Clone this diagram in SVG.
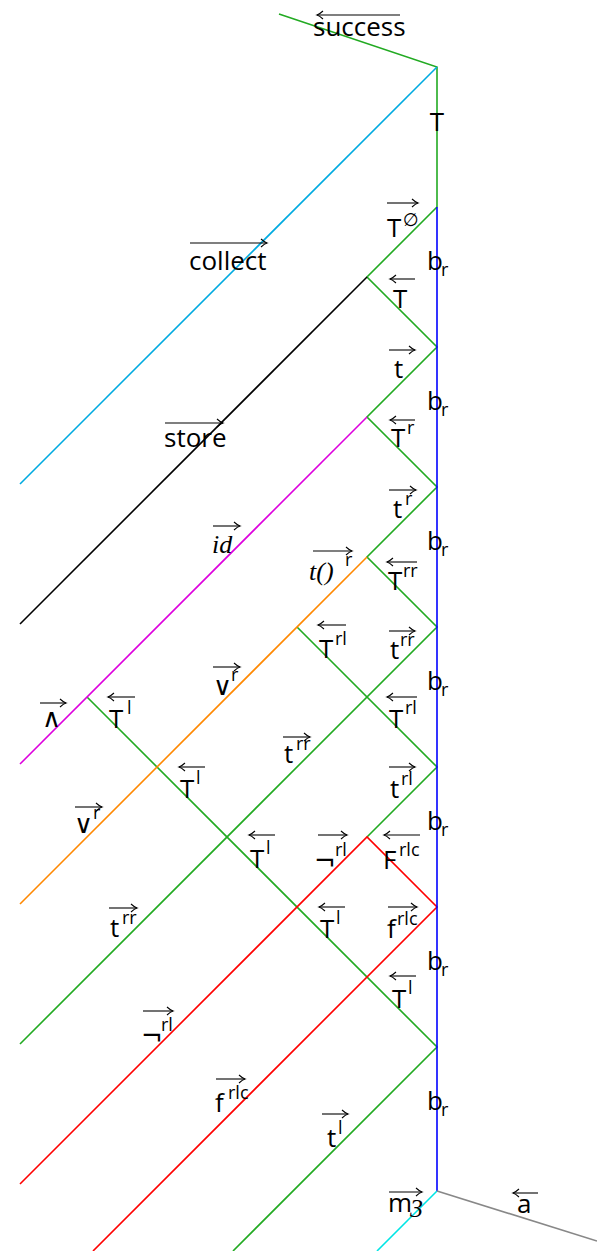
<svg xmlns="http://www.w3.org/2000/svg" width="597" height="1251" viewBox="0 0 597 1251">
<style>
.ln{fill:none;stroke-width:1.6;stroke-linejoin:miter}
.g{stroke:#22aa22}.cb{stroke:#00aae0}.k{stroke:#000}.mg{stroke:#dd00dd}.or{stroke:#ff8800}.rd{stroke:#ff0000}.bl{stroke:#0000ff}.cy{stroke:#00e5e5}.gy{stroke:#888888}
text{font-family:"Open Sans","DejaVu Sans",sans-serif;font-size:26px;fill:#000}
.s{font-size:18px}
.sy{font-family:"DejaVu Sans",sans-serif}
.mi{font-family:"Liberation Serif","DejaVu Serif",serif;font-style:italic}
.ar{stroke:#000;stroke-width:1.1;fill:none;marker-end:url(#ah)}
</style>
<defs>
<marker id="ah" markerWidth="9" markerHeight="10" refX="7" refY="5" orient="auto" markerUnits="userSpaceOnUse">
<path d="M1,1 Q4.5,4.2 7,5 Q4.5,5.8 1,9" fill="none" stroke="#000" stroke-width="1.1"/>
</marker>
</defs>
<g id="connectors">
<polyline class="ln g" points="279,14 437,67 437,207"/>
<polyline class="ln g" points="437,207 367,277 437,347 367,417 437,487 367,557 437,627 20,1044"/>
<polyline class="ln g" points="297,627 437,767 367,837"/>
<polyline class="ln g" points="87,697 437,1047 233,1251"/>
<line class="ln cb" x1="437" y1="67" x2="20" y2="484"/>
<line class="ln k" x1="367" y1="277" x2="20" y2="624"/>
<line class="ln mg" x1="367" y1="417" x2="20" y2="764"/>
<line class="ln or" x1="367" y1="557" x2="20" y2="904"/>
<polyline class="ln rd" points="20,1184 367,837 437,907 93,1251"/>
<line class="ln bl" x1="437" y1="207" x2="437" y2="1191"/>
<line class="ln cy" x1="437" y1="1191" x2="377" y2="1251"/>
<line class="ln gy" x1="437" y1="1191" x2="597" y2="1241"/>
</g>
<g id="lbl-success"><line class="ar" x1="400" y1="15" x2="317" y2="15"/><text x="313" y="36">success</text></g>
<g id="lbl-T"><text x="437" y="131" text-anchor="middle">T</text></g>
<g id="lbl-T0"><line class="ar" x1="387" y1="203" x2="418" y2="203"/><text x="387" y="237">T</text><text class="s sy" x="403" y="226" font-size="16">∅</text></g>
<g id="lbl-br1"><text x="427" y="270">b</text><text class="s" x="441" y="276">r</text></g>
<g id="lbl-br2"><text x="427" y="410">b</text><text class="s" x="441" y="416">r</text></g>
<g id="lbl-br3"><text x="427" y="550">b</text><text class="s" x="441" y="556">r</text></g>
<g id="lbl-br4"><text x="427" y="690">b</text><text class="s" x="441" y="696">r</text></g>
<g id="lbl-br5"><text x="427" y="830">b</text><text class="s" x="441" y="836">r</text></g>
<g id="lbl-br6"><text x="427" y="970">b</text><text class="s" x="441" y="976">r</text></g>
<g id="lbl-br7"><text x="427" y="1110">b</text><text class="s" x="441" y="1116">r</text></g>
<g id="lbl-collect"><line class="ar" x1="190" y1="243" x2="267" y2="243"/><text x="189" y="270">collect</text></g>
<g id="lbl-T-1"><line class="ar" x1="415" y1="279" x2="390" y2="279"/><text x="393" y="308">T</text></g>
<g id="lbl-t-1"><line class="ar" x1="389" y1="350" x2="415" y2="350"/><text x="394" y="378">t</text></g>
<g id="lbl-store"><line class="ar" x1="165" y1="423" x2="223" y2="423"/><text x="164" y="447">store</text></g>
<g id="lbl-Tr"><line class="ar" x1="415" y1="420" x2="390" y2="420"/><text x="391" y="447">T</text><text class="s" x="407" y="434">r</text></g>
<g id="lbl-tr"><line class="ar" x1="389" y1="490" x2="416" y2="490"/><text x="393" y="518">t</text><text class="s" x="405" y="505">r</text></g>
<g id="lbl-id"><line class="ar" x1="213" y1="526" x2="240" y2="526"/><text class="mi" x="212" y="553" font-size="28">id</text></g>
<g id="lbl-tfr"><line class="ar" x1="313" y1="551" x2="352" y2="551"/><text class="mi" x="309" y="580" font-size="28">t()</text><text class="s" x="345" y="566">r</text></g>
<g id="lbl-Trr"><line class="ar" x1="417" y1="562" x2="387" y2="562"/><text x="388" y="590">T</text><text class="s" x="403" y="577">rr</text></g>
<g id="lbl-Trl-1"><line class="ar" x1="346" y1="625" x2="318" y2="625"/><text x="319" y="658">T</text><text class="s" x="335" y="645">rl</text></g>
<g id="lbl-trr-1"><line class="ar" x1="389" y1="631" x2="415" y2="631"/><text x="390" y="659">t</text><text class="s" x="400" y="646">rr</text></g>
<g id="lbl-or-1"><line class="ar" x1="213" y1="667" x2="240" y2="667"/><text class="sy" x="213" y="695" font-size="25">∨</text><text class="s" x="231" y="681">r</text></g>
<g id="lbl-and"><line class="ar" x1="40" y1="703" x2="66" y2="703"/><text class="sy" x="42" y="727" font-size="25">∧</text></g>
<g id="lbl-Tl-1"><line class="ar" x1="135" y1="697" x2="108" y2="697"/><text x="109" y="728">T</text><text class="s" x="127" y="714">l</text></g>
<g id="lbl-Trl-2"><line class="ar" x1="417" y1="697" x2="387" y2="697"/><text x="389" y="728">T</text><text class="s" x="405" y="714">rl</text></g>
<g id="lbl-trr-2"><line class="ar" x1="283" y1="737" x2="310" y2="737"/><text x="284" y="763">t</text><text class="s" x="296" y="750">rr</text></g>
<g id="lbl-Tl-2"><line class="ar" x1="205" y1="767" x2="179" y2="767"/><text x="180" y="798">T</text><text class="s" x="196" y="784">l</text></g>
<g id="lbl-trl-1"><line class="ar" x1="389" y1="767" x2="415" y2="767"/><text x="390" y="798">t</text><text class="s" x="401" y="785">rl</text></g>
<g id="lbl-or-2"><line class="ar" x1="75" y1="807" x2="102" y2="807"/><text class="sy" x="74" y="833" font-size="25">∨</text><text class="s" x="93" y="819">r</text></g>
<g id="lbl-Tl-3"><line class="ar" x1="275" y1="835" x2="249" y2="835"/><text x="250" y="868">T</text><text class="s" x="266" y="854">l</text></g>
<g id="lbl-neg-1"><line class="ar" x1="318" y1="835" x2="347" y2="835"/><text class="sy" x="314" y="870" font-size="18">¬</text><text class="s" x="335" y="856">rl</text></g>
<g id="lbl-Frlc"><line class="ar" x1="420" y1="835" x2="384" y2="835"/><text x="383" y="869">F</text><text class="s" x="399" y="856">rlc</text></g>
<g id="lbl-trr-3"><line class="ar" x1="109" y1="908" x2="137" y2="908"/><text x="110" y="937">t</text><text class="s" x="122" y="924">rr</text></g>
<g id="lbl-Tl-4"><line class="ar" x1="345" y1="907" x2="319" y2="907"/><text x="320" y="938">T</text><text class="s" x="336" y="924">l</text></g>
<g id="lbl-frlc-1"><line class="ar" x1="388" y1="907" x2="417" y2="907"/><text x="387" y="938">f</text><text class="s" x="397" y="925">rlc</text></g>
<g id="lbl-Tl-5"><line class="ar" x1="416" y1="976" x2="390" y2="976"/><text x="392" y="1008">T</text><text class="s" x="408" y="994">l</text></g>
<g id="lbl-neg-2"><line class="ar" x1="143" y1="1011" x2="173" y2="1011"/><text class="sy" x="141" y="1045" font-size="18">¬</text><text class="s" x="161" y="1031">rl</text></g>
<g id="lbl-frlc-2"><line class="ar" x1="216" y1="1079" x2="245" y2="1079"/><text x="215" y="1112">f</text><text class="s" x="228" y="1099">rlc</text></g>
<g id="lbl-tl"><line class="ar" x1="322" y1="1114" x2="348" y2="1114"/><text x="327" y="1147">t</text><text class="s" x="338" y="1134">l</text></g>
<g id="lbl-m3"><line class="ar" x1="389" y1="1192" x2="422" y2="1192"/><text x="388" y="1212">m</text><text class="mi" x="410" y="1217" font-size="18">3</text></g>
<g id="lbl-a"><line class="ar" x1="538" y1="1193" x2="513" y2="1193"/><text x="517" y="1213">a</text></g>
</svg>
